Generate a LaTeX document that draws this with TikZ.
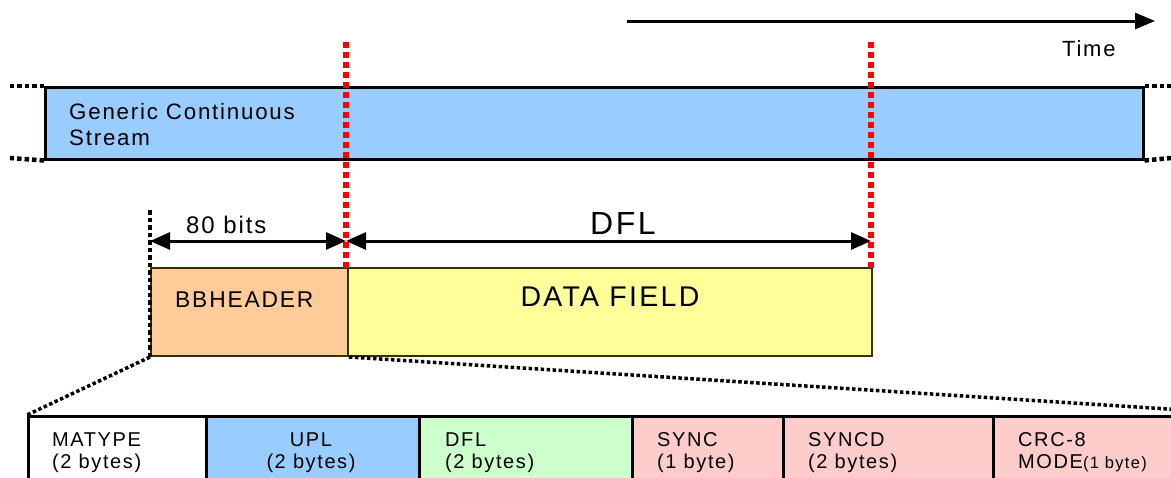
\documentclass[tikz,border=0pt]{standalone}
\usepackage{fontspec}
\setmainfont{Liberation Sans}[LetterSpace=8]
\usetikzlibrary{arrows.meta}
\definecolor{cblue}{HTML}{99CCFF}
\definecolor{corange}{HTML}{FFCC99}
\definecolor{cyellow}{HTML}{FFFF99}
\definecolor{cgreen}{HTML}{CCFFCC}
\definecolor{cpink}{HTML}{FFCCCC}
\definecolor{colive}{HTML}{333300}
\begin{document}
\begin{tikzpicture}[x=1pt,y=-1pt,
  txt/.style={inner sep=0pt, anchor=base west},
  ctxt/.style={inner sep=0pt, anchor=base},
  fz/.style={font=\fontsize{#1}{#1}\selectfont},
  boxa/.style={draw=black, line width=2.5pt, inner sep=0pt, anchor=north west},
  boxb/.style={draw=colive, line width=2pt, inner sep=0pt, anchor=north west},
  cell/.style={draw=black, line width=2.5pt, inner sep=0pt, anchor=north west, minimum height=90pt},
  blkdot/.style={line width=4.5pt, dash pattern=on 4.5pt off 3pt, black},
  reddot/.style={line width=6pt, dash pattern=on 6pt off 4pt, red},
  diagdot/.style={line width=3.5pt, dash pattern=on 3.5pt off 2.5pt, black},
  dimarrow/.style={line width=3pt, {Triangle[length=20pt,width=17pt]}-{Triangle[length=20pt,width=17pt]}},
  timearrow/.style={line width=3pt, -{Triangle[length=20pt,width=16pt]}}
]
\useasboundingbox (0,0) rectangle (1171,477);
\clip (0,0) rectangle (1171,477);

% time arrow
\coordinate (t0) at (627,21);
\coordinate (t1) at (1155,21);
\draw[timearrow] (t0) -- (t1);
\node[txt, fz=22] (time) at (1062,56) {Time};

% stream
\node[boxa, fill=cblue, minimum width=1098pt, minimum height=72pt] (stream) at (44,86) {};
\coordinate (lt) at (10,86);
\coordinate (lb) at (10,158);
\coordinate (rt) at (1171,86);
\coordinate (rb) at (1171,158);
\draw[blkdot] (stream.north west) -- (lt);
\draw[blkdot] (stream.south west) -- (lb);
\draw[blkdot] (stream.north east) -- (rt);
\draw[blkdot] (stream.south east) -- (rb);
\node[txt, fz=22.3] (gcs1) at (69,119) {Generic Continuous};
\node[txt, fz=22.3] (gcs2) at (69,145) {Stream};

% boxes
\node[boxb, fill=corange, minimum width=197pt, minimum height=88pt] (bb) at (150,267) {};
\node[boxb, fill=cyellow, minimum width=524pt, minimum height=88pt] (df) at (347,267) {};
\node[txt, fz=22.8] (bbt) at (175,307) {BBHEADER};
\node[ctxt, fz=28.5] (dft) at (610,306) {DATA FIELD};

% red dotted markers
\coordinate (r1t) at (346,42);
\coordinate (r1b) at (346,268);
\coordinate (r2t) at (871,42);
\coordinate (r2b) at (871,268);
\draw[reddot] (r1t) -- (r1b);
\draw[reddot] (r2t) -- (r2b);

% black dotted marker
\coordinate (bl) at (150,210);
\draw[blkdot, line width=4pt] (bl) -- (bb.south west);

% dimension arrows
\coordinate (a0) at (150,241);
\coordinate (a1) at (346,241);
\coordinate (a2) at (871,241);
\draw[dimarrow] (a0) -- (a1);
\draw[dimarrow] (a1) -- (a2);
\node[txt, fz=24] (bits) at (186,233) {80 bits};
\node[ctxt, fz=32] (dfll) at (623,234) {DFL};

% bottom row
\node[cell, fill=white, minimum width=178pt] (matype) at (27,415) {};
\node[cell, fill=cblue, minimum width=213pt] (upl) at (205,415) {};
\node[cell, fill=cgreen, minimum width=213pt] (dflc) at (418,415) {};
\node[cell, fill=cpink, minimum width=151pt] (sync) at (631,415) {};
\node[cell, fill=cpink, minimum width=210pt] (syncd) at (782,415) {};
\node[cell, fill=cpink, minimum width=268pt] (crc) at (992,415) {};

\node[txt, fz=20] (m1) at (52,446) {MATYPE};
\node[txt, fz=20] (m2) at (52,468) {(2 bytes)};
\node[ctxt, fz=20] (u1) at (311,446) {UPL};
\node[ctxt, fz=20] (u2) at (311,468) {(2 bytes)};
\node[txt, fz=20] (d1) at (445,446) {DFL};
\node[txt, fz=20] (d2) at (445,468) {(2 bytes)};
\node[txt, fz=20] (s1) at (657,446) {SYNC};
\node[txt, fz=20] (s2) at (657,468) {(1 byte)};
\node[txt, fz=20] (sd1) at (808,446) {SYNCD};
\node[txt, fz=20] (sd2) at (808,468) {(2 bytes)};
\node[txt, fz=20] (c1) at (1018,446) {CRC-8};
\node[txt, fz=20] (c2) at (1018,468) {MODE{\fontsize{16.5}{16.5}\selectfont(1 byte)}};

% zoom lines
\draw[diagdot] (bb.south west) -- (matype.north west);
\draw[diagdot] (bb.south east) -- (crc.north east);
\end{tikzpicture}
\end{document}
